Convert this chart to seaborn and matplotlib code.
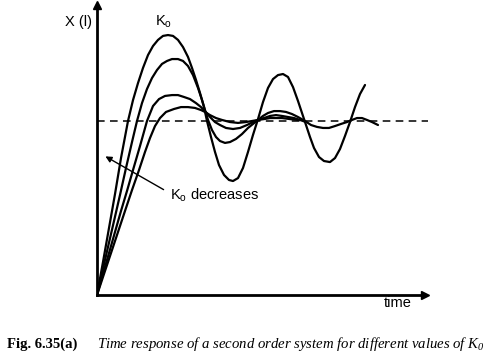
import matplotlib
matplotlib.use("Agg")
import matplotlib.pyplot as plt
import seaborn as sns
import pandas as pd

# ---- data (time in arbitrary units, response normalised to steady state = 1) ----
t_a = [0, 0.6, 1.2, 1.8, 2.4, 3.1, 3.6, 4.1, 4.6, 5.1, 5.6, 6.1, 6.6, 7.1, 7.6, 8.1, 8.6, 9.1, 9.5, 9.9,
       10.3, 10.7, 11.0, 11.4, 11.8, 12.2, 12.7, 13.2, 13.6, 14.1, 14.6, 15.1, 15.6, 16.1, 16.6, 17.1, 17.6,
       18.1, 18.6, 19.1, 19.6, 20.1, 20.5, 20.9, 21.3, 21.7, 22.2, 22.7, 23.3, 23.8, 24.3, 24.8, 25.3, 25.8,
       26.3, 26.8]
x_a = [0, 0.19, 0.385, 0.58, 0.787, 1.0, 1.12, 1.218, 1.305, 1.379, 1.431, 1.466, 1.489, 1.494, 1.489, 1.466,
       1.425, 1.368, 1.305, 1.236, 1.161, 1.080, 1.0, 0.908, 0.822, 0.747, 0.690, 0.661, 0.655, 0.672, 0.730,
       0.822, 0.920, 1.011, 1.109, 1.190, 1.241, 1.264, 1.270, 1.253, 1.195, 1.115, 1.046, 0.977, 0.908, 0.845,
       0.793, 0.770, 0.764, 0.787, 0.839, 0.914, 0.994, 1.080, 1.155, 1.207]

t_b = [0, 0.5, 1.1, 1.7, 2.3, 2.9, 3.5, 4.0, 4.5, 5.0, 5.5, 6.0, 6.5, 7.0, 7.5, 8.1, 8.6, 9.1, 9.6, 10.1,
       10.5, 10.8, 11.1, 11.5, 11.9, 12.3, 12.8, 13.3, 13.9, 14.5, 15.1, 15.6, 16.1, 16.6, 17.1, 17.7, 18.3,
       18.9, 19.5, 20.1, 20.8, 21.4, 22.0, 22.6, 23.2, 23.8, 24.4, 25.0, 25.5, 26.0, 26.5, 27.0, 27.5, 28.1]
x_b = [0, 0.126, 0.276, 0.425, 0.575, 0.730, 0.879, 1.0, 1.103, 1.184, 1.247, 1.293, 1.328, 1.345, 1.356,
       1.356, 1.345, 1.316, 1.264, 1.190, 1.121, 1.063, 1.006, 0.948, 0.908, 0.885, 0.874, 0.879, 0.897,
       0.925, 0.960, 0.983, 1.006, 1.029, 1.046, 1.057, 1.057, 1.052, 1.040, 1.023, 1.0, 0.977, 0.966, 0.960,
       0.960, 0.971, 0.983, 0.994, 1.006, 1.017, 1.017, 1.006, 0.994, 0.977]

t_c = [0, 0.6, 1.2, 1.8, 2.4, 3.0, 3.6, 4.3, 5.0, 5.6, 6.2, 6.8, 7.5, 8.1, 8.7, 9.3, 9.9, 10.4, 10.8, 11.3,
       11.8, 12.3, 12.9, 13.6, 14.3, 15.0, 15.6, 16.1, 16.7, 17.3, 17.9, 18.5, 19.1, 19.7, 20.3, 20.9]
x_c = [0, 0.121, 0.241, 0.362, 0.483, 0.598, 0.718, 0.856, 1.0, 1.086, 1.126, 1.144, 1.149, 1.149, 1.138,
       1.126, 1.103, 1.080, 1.057, 1.023, 0.994, 0.977, 0.960, 0.954, 0.960, 0.977, 0.994, 1.006, 1.017,
       1.029, 1.034, 1.029, 1.023, 1.017, 1.006, 0.994]

t_d = [0, 0.7, 1.4, 2.1, 2.8, 3.5, 4.2, 4.8, 5.3, 5.8, 6.3, 6.9, 7.7, 8.4, 9.1, 9.8, 10.4, 10.8, 11.3, 11.9,
       12.5, 13.3, 14.1, 14.9, 15.5, 16.1, 16.7, 17.3, 17.9, 18.5, 19.3, 20.1]
x_d = [0, 0.121, 0.241, 0.362, 0.483, 0.603, 0.718, 0.822, 0.902, 0.971, 1.017, 1.052, 1.069, 1.080, 1.080,
       1.075, 1.063, 1.052, 1.034, 1.017, 1.006, 0.994, 0.989, 0.994, 1.0, 1.006, 1.011, 1.017, 1.017, 1.017,
       1.011, 1.006]

steady_state = 1.0
curve_names = ["K0 largest", "K0 large", "K0 small", "K0 smallest"]

y_label = "X (l)"
x_label = "time"
k_label = r"$\mathregular{K_o}$"
arrow_label = r"$\mathregular{K_o}$ decreases"
fig_number = "Fig. 6.35(a)"
caption = r"Time response of a second order system for different values of $\mathregular{K_0}$"

# ---- build long table ----
frames = []
for name, t, x in zip(curve_names, [t_a, t_b, t_c, t_d], [x_a, x_b, x_c, x_d]):
    frames.append(pd.DataFrame({"time": t, "response": x, "curve": name}))
df = pd.concat(frames, ignore_index=True)

sns.set_theme(style="white")
plt.rcParams["font.family"] = ["Liberation Sans", "DejaVu Sans"]

W, H = 499, 356
fig = plt.figure(figsize=(W / 100, H / 100), dpi=100)
fig.patch.set_facecolor("white")
ax = fig.add_axes([97 / W, 61 / H, 328 / W, 290 / H])
ax.set_facecolor("white")

for name in curve_names:
    sub = df[df["curve"] == name]
    sns.lineplot(data=sub, x="time", y="response", ax=ax, color="black", lw=1.6,
                 sort=False, estimator=None, legend=False)

ax.axhline(steady_state, xmin=0, xmax=1.01, color="black", lw=1.1,
           ls=(0, (5, 3.5)), clip_on=False)

ax.set_xlim(0, 32.8)
ax.set_ylim(0, 290 / 174)
ax.set_xticks([])
ax.set_yticks([])
ax.set_xlabel("")
ax.set_ylabel("")
for s in ["top", "right"]:
    ax.spines[s].set_visible(False)
for s in ["left", "bottom"]:
    ax.spines[s].set_visible(True)
    ax.spines[s].set_color("black")
    ax.spines[s].set_linewidth(2.0)

# arrow heads on axes
ax.plot(1, 0, marker=">", color="black", markersize=6, transform=ax.transAxes, clip_on=False)
ax.plot(0, 1, marker="^", color="black", markersize=6, transform=ax.transAxes, clip_on=False)

def px(x, y):
    return x / W, 1 - y / H

fig.text(*px(65, 22), y_label, fontsize=10.5, ha="left", va="center", color="black")
fig.text(*px(155, 22), k_label, fontsize=10.5, ha="left", va="center", color="black")
fig.text(*px(384, 303), x_label, fontsize=10.5, ha="left", va="center", color="black")
fig.text(*px(170, 195), arrow_label, fontsize=10.5, ha="left", va="center", color="black")
ax.annotate("", xy=px(103, 155), xycoords="figure fraction",
            xytext=px(166, 191), textcoords="figure fraction",
            arrowprops=dict(arrowstyle="-|>", color="black", lw=1.0, mutation_scale=9))

fig.text(*px(7, 344), fig_number, fontsize=10.5, ha="left", va="center", color="black",
         family=["Liberation Serif", "DejaVu Serif"], weight="bold")
fig.text(*px(97, 344), caption, fontsize=10.6, ha="left", va="center", color="black",
         family=["Liberation Serif", "DejaVu Serif"], style="italic")

fig.savefig("out.png", dpi=100, facecolor="white")
